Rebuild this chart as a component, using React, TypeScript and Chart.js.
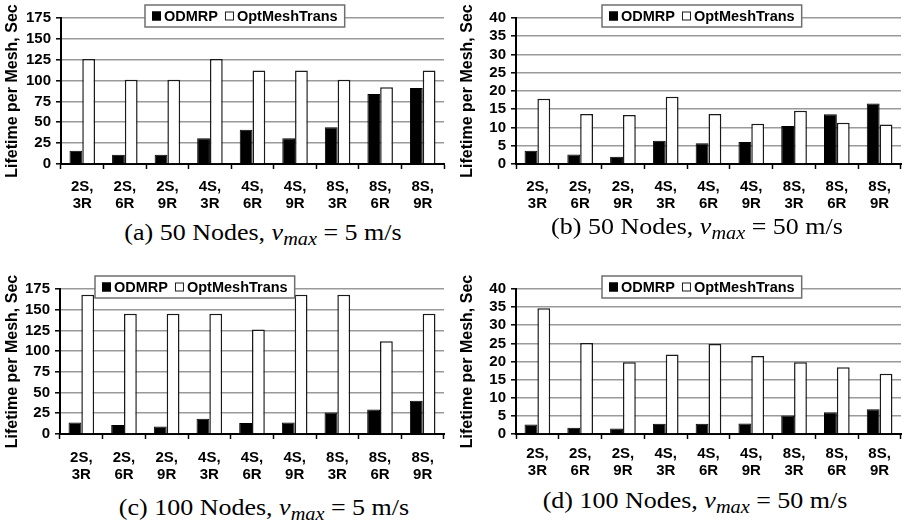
import React, { useEffect, useRef } from "react";
import { Chart, registerables } from "chart.js";

Chart.register(...registerables);

// ---------- data ----------
const categories: string[][] = [
  ["2S,", "3R"], ["2S,", "6R"], ["2S,", "9R"],
  ["4S,", "3R"], ["4S,", "6R"], ["4S,", "9R"],
  ["8S,", "3R"], ["8S,", "6R"], ["8S,", "9R"],
];
const seriesNames = ["ODMRP", "OptMeshTrans"];

const odmrpA = [16, 11, 11, 31, 41, 31, 44, 84, 91];
const optMeshA = [126, 101, 101, 126, 112, 112, 101, 92, 112];

const odmrpB = [3.6, 2.6, 2.0, 6.4, 5.7, 6.0, 10.4, 13.6, 16.6];
const optMeshB = [17.9, 13.7, 13.4, 18.4, 13.7, 11.0, 14.6, 11.3, 10.8];

const odmrpC = [14, 11, 9, 18.5, 13.3, 14, 26, 29.5, 40];
const optMeshC = [168, 145, 145, 145, 126, 168, 168, 112, 145];

const odmrpD = [2.6, 1.7, 1.5, 2.8, 2.8, 2.9, 5.1, 6.0, 6.8];
const optMeshD = [34.7, 25.1, 19.8, 21.9, 24.8, 21.5, 19.8, 18.4, 16.6];

const yMaxes = [175, 40, 175, 40];
const ySteps = [25, 5, 25, 5];
const yTitle = "Lifetime per Mesh, Sec";

const captionLetters = ["(a)", "(b)", "(c)", "(d)"];
const nodeCounts = [50, 50, 100, 100];
const speeds = [5, 50, 5, 50];

const odmrpSeries = [odmrpA, odmrpB, odmrpC, odmrpD];
const optMeshSeries = [optMeshA, optMeshB, optMeshC, optMeshD];

// ---------- layout ----------
const W = 455;
const panels = [
  { left: 0, top: 0, chartTop: 18, chartBottom: 164, chartLeft: 61, chartRight: 444, legendDx: 84, labelPad: 10, capX: 263, capBase: 240 },
  { left: 455, top: 0, chartTop: 18, chartBottom: 164, chartLeft: 61, chartRight: 446, legendDx: 86, labelPad: 10, capX: 242, capBase: 234 },
  { left: 0, top: 261, chartTop: 28, chartBottom: 173, chartLeft: 60, chartRight: 444, legendDx: 35, labelPad: 11, capX: 264, capBase: 254 },
  { left: 455, top: 261, chartTop: 28, chartBottom: 173, chartLeft: 61, chartRight: 446, legendDx: 86, labelPad: 7, capX: 240, capBase: 247 },
];

const SANS = '"Liberation Sans", Arial, Helvetica, sans-serif';
const SERIF = '"Liberation Serif", "Times New Roman", serif';

const boxLegend = {
  id: "boxLegend",
  afterDraw(chart: any, _args: any, opts: any) {
    const ctx = chart.ctx as CanvasRenderingContext2D;
    const area = chart.chartArea;
    const x0 = area.left + opts.dx;
    const y0 = area.top + opts.dy;
    const h = opts.height;
    ctx.save();
    ctx.font = `bold 14.5px ${SANS}`;
    const items = chart.data.datasets.map((ds: any) => ({
      label: ds.label,
      fill: ds.backgroundColor,
      stroke: ds.borderColor,
      w: ctx.measureText(ds.label).width,
    }));
    const pad = 7, sq = 9, gapT = 3, gapI = 7;
    const width =
      pad * 2 +
      items.reduce((s: number, it: any) => s + sq + gapT + it.w, 0) +
      gapI * (items.length - 1);
    ctx.fillStyle = "#fff";
    ctx.fillRect(x0, y0, width, h);
    ctx.strokeStyle = "#6f6f6f";
    ctx.lineWidth = 1.5;
    ctx.strokeRect(x0, y0, width, h);
    let x = x0 + pad;
    const cy = y0 + h / 2;
    items.forEach((it: any) => {
      ctx.fillStyle = it.fill;
      ctx.fillRect(x, cy - sq / 2, sq, sq);
      ctx.strokeStyle = it.stroke;
      ctx.lineWidth = 1;
      ctx.strokeRect(x + 0.5, cy - sq / 2 + 0.5, sq - 1, sq - 1);
      x += sq + gapT;
      ctx.fillStyle = "#000";
      ctx.textBaseline = "middle";
      ctx.textAlign = "left";
      ctx.fillText(it.label, x, cy + 1);
      x += it.w + gapI;
    });
    ctx.restore();
  },
};

function Panel({ idx }: { idx: number }) {
  const ref = useRef<HTMLCanvasElement>(null);
  const g = panels[idx];
  const H = g.chartBottom + 52;

  useEffect(() => {
    if (!ref.current) return;
    const chart = new Chart(ref.current, {
      type: "bar",
      data: {
        labels: categories,
        datasets: [
          {
            label: seriesNames[0],
            data: odmrpSeries[idx],
            backgroundColor: "#000",
            borderColor: "#000",
            borderWidth: 1,
          },
          {
            label: seriesNames[1],
            data: optMeshSeries[idx],
            backgroundColor: "#fff",
            borderColor: "#1a1a1a",
            borderWidth: 1.5,
          },
        ],
      },
      options: {
        animation: false,
        responsive: false,
        devicePixelRatio: 1,
        layout: {
          padding: { top: g.chartTop, left: 0, right: W - g.chartRight, bottom: 0 },
        },
        datasets: {
          bar: { categoryPercentage: 0.6, barPercentage: 1.0 },
        },
        plugins: {
          legend: { display: false },
          tooltip: { enabled: false },
          boxLegend: { dx: g.legendDx, dy: -13, height: 22 },
        } as any,
        scales: {
          x: {
            type: "category",
            offset: true,
            grid: {
              display: true,
              offset: true,
              drawOnChartArea: false,
              drawTicks: true,
              tickLength: 5,
              tickColor: "#000",
              tickWidth: 1.5,
            },
            border: { display: true, color: "#000", width: 2 },
            ticks: {
              color: "#000",
              font: { family: SANS, size: 15, weight: "bold", lineHeight: 1.13 },
              padding: g.labelPad - 1,
              maxRotation: 0,
              autoSkip: false,
            },
            afterFit: (scale: any) => {
              scale.height = H - g.chartBottom;
            },
          },
          y: {
            min: 0,
            max: yMaxes[idx],
            grid: {
              color: "#9a9a9a",
              lineWidth: 1.6,
              drawTicks: true,
              tickLength: 5,
              tickColor: "#000",
              tickWidth: 1.5,
            },
            border: { display: true, color: "#000", width: 2 },
            ticks: {
              stepSize: ySteps[idx],
              autoSkip: false,
              color: "#000",
              font: { family: SANS, size: 15, weight: "bold" },
              padding: 5,
            },
            title: {
              display: true,
              text: yTitle,
              color: "#000",
              font: { family: SANS, size: 16, weight: "bold" },
              padding: { top: 3, bottom: 0 },
            },
            afterFit: (scale: any) => {
              scale.width = g.chartLeft;
            },
          },
        },
      },
      plugins: [boxLegend as any],
    });
    return () => chart.destroy();
  }, [idx]);

  const capFont = 23;
  const lineH = 23;
  const capTop = g.top + g.capBase - 19.2;

  return (
    <>
      <canvas
        ref={ref}
        width={W}
        height={H}
        style={{ position: "absolute", left: g.left, top: g.top, width: W, height: H }}
      />
      <div
        style={{
          position: "absolute",
          left: g.left + g.capX,
          top: capTop,
          transform: "translateX(-50%) scaleX(1.13)",
          transformOrigin: "50% 0",
          whiteSpace: "nowrap",
          fontFamily: SERIF,
          fontSize: capFont,
          lineHeight: `${lineH}px`,
          color: "#000",
        }}
      >
        {captionLetters[idx]} {nodeCounts[idx]} Nodes, <i>v</i>
        <sub style={{ fontStyle: "italic", fontSize: "0.78em", lineHeight: 0, verticalAlign: "-0.3em" }}>max</sub>
        {" "}= {speeds[idx]} m/s
      </div>
    </>
  );
}

export default function App() {
  return (
    <div
      style={{
        position: "absolute",
        left: 0,
        top: 0,
        width: 910,
        height: 522,
        background: "#fff",
        overflow: "hidden",
      }}
    >
      {[0, 1, 2, 3].map((i) => (
        <Panel key={i} idx={i} />
      ))}
    </div>
  );
}
